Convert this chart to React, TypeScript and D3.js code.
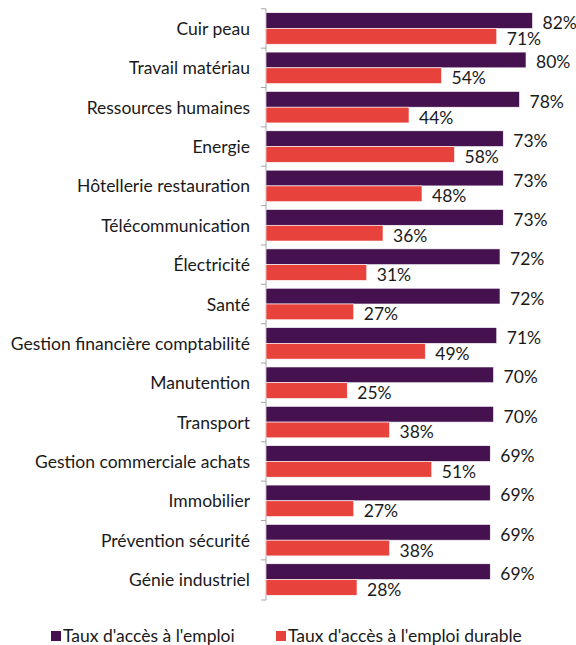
import React, { useRef, useEffect } from "react";
import * as d3 from "d3";

const categories = [
  "Cuir peau",
  "Travail matériau",
  "Ressources humaines",
  "Energie",
  "Hôtellerie restauration",
  "Télécommunication",
  "Électricité",
  "Santé",
  "Gestion financière comptabilité",
  "Manutention",
  "Transport",
  "Gestion commerciale achats",
  "Immobilier",
  "Prévention sécurité",
  "Génie industriel",
];
const accesEmploi = [82, 80, 78, 73, 73, 73, 72, 72, 71, 70, 70, 69, 69, 69, 69];
const accesDurable = [71, 54, 44, 58, 48, 36, 31, 27, 49, 25, 38, 51, 27, 38, 28];
const seriesNames = ["Taux d'accès à l'emploi", "Taux d'accès à l'emploi durable"];
const seriesColors = ["#45124f", "#e8423d"];

const FONT = "Lato, 'Open Sans', sans-serif";
const FS = 17.5;

export default function App() {
  const svgRef = useRef(null);
  const width = 576;
  const height = 645;

  useEffect(() => {
    const svg = d3.select(svgRef.current);
    svg.selectAll("*").remove();

    // scales
    const x = d3.scaleLinear().domain([0, 100]).range([266, 591]);
    const y = d3
      .scaleBand()
      .domain(categories)
      .range([8, 600])
      .paddingInner(0.2)
      .paddingOuter(0.12);
    const ySub = d3.scaleBand().domain(["0", "1"]).range([0, y.bandwidth()]);

    const rows = categories.map((c, i) => ({
      cat: c,
      values: [accesEmploi[i], accesDurable[i]],
    }));

    // axis line + ticks at band boundaries
    const gap = (y.step() - y.bandwidth()) / 2;
    const tickYs = categories.map((c) => y(c) - gap);
    tickYs.push(600);
    svg
      .append("line")
      .attr("x1", x(0))
      .attr("x2", x(0))
      .attr("y1", tickYs[0])
      .attr("y2", 600)
      .attr("stroke", "#a6a6a6")
      .attr("stroke-width", 1);
    svg
      .selectAll(".tick")
      .data(tickYs)
      .join("line")
      .attr("x1", x(0) - 5)
      .attr("x2", x(0))
      .attr("y1", (d) => d)
      .attr("y2", (d) => d)
      .attr("stroke", "#a6a6a6")
      .attr("stroke-width", 1);

    // bars
    const groups = svg
      .selectAll(".row")
      .data(rows)
      .join("g")
      .attr("transform", (d) => `translate(0,${y(d.cat)})`);

    groups
      .selectAll("rect")
      .data((d) => d.values)
      .join("rect")
      .attr("x", x(0))
      .attr("y", (d, i) => ySub(String(i)))
      .attr("width", (d) => x(d) - x(0))
      .attr("height", ySub.bandwidth())
      .attr("fill", (d, i) => seriesColors[i])
      .attr("stroke", "#ffffff")
      .attr("stroke-width", 0.6);

    groups
      .selectAll(".val")
      .data((d) => d.values)
      .join("text")
      .attr("x", (d) => x(d) + 10)
      .attr("y", (d, i) => ySub(String(i)) + ySub.bandwidth() / 2 + 2)
      .attr("dominant-baseline", "central")
      .attr("font-family", FONT)
      .attr("font-size", FS)
      .attr("fill", "#1a1a1a")
      .text((d) => `${d}%`);

    // category labels
    svg
      .selectAll(".cat")
      .data(categories)
      .join("text")
      .attr("x", 250)
      .attr("y", (d) => y(d) + y.bandwidth() / 2)
      .attr("text-anchor", "end")
      .attr("dominant-baseline", "central")
      .attr("font-family", FONT)
      .attr("font-size", FS)
      .attr("fill", "#1a1a1a")
      .text((d) => d);

    // legend
    const legendX = [51, 276];
    const legend = svg
      .selectAll(".legend")
      .data(seriesNames)
      .join("g")
      .attr("transform", (d, i) => `translate(${legendX[i]},631)`);
    legend
      .append("rect")
      .attr("width", 10)
      .attr("height", 10)
      .attr("fill", (d, i) => seriesColors[i]);
    legend
      .append("text")
      .attr("x", 12)
      .attr("y", 4)
      .attr("dominant-baseline", "central")
      .attr("font-family", FONT)
      .attr("font-size", FS)
      .attr("fill", "#1a1a1a")
      .text((d) => d);
  }, []);

  return (
    <svg
      ref={svgRef}
      width={width}
      height={height}
      style={{ position: "absolute", left: 0, top: 0, background: "#fff" }}
    ></svg>
  );
}
